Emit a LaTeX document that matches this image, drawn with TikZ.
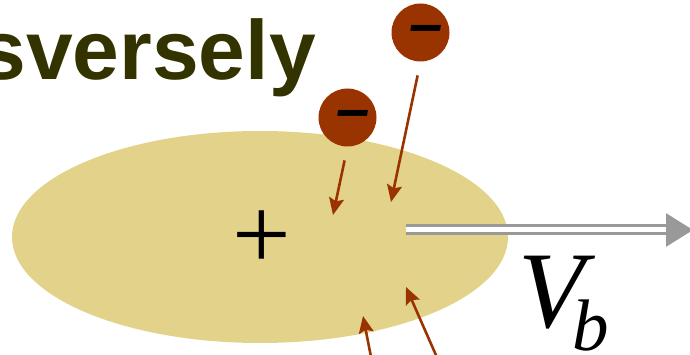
\documentclass[tikz,border=0pt]{standalone}
\usepackage{fontspec}
\setmainfont{Liberation Sans}
\newfontfamily\timesfont{Liberation Serif}
\usetikzlibrary{arrows.meta}
\definecolor{olivetext}{HTML}{333300}
\definecolor{nucleus}{HTML}{E3D38A}
\definecolor{rust}{HTML}{993300}
\definecolor{beamgray}{HTML}{999999}

\begin{document}
\begin{tikzpicture}[x=1pt,y=-1pt,
    electron/.style={circle,fill=rust,minimum size=58pt,inner sep=0pt},
    charge/.style={font=\fontsize{60}{60}\selectfont\bfseries\itshape,inner sep=0pt},
    capture/.style={rust,line width=2.6pt,-{Stealth[length=17pt,width=15pt,inset=3pt]}}
]
\useasboundingbox (0,0) rectangle (690,355);
\clip (0,0) rectangle (690,355);

% Title fragment
\node[anchor=base east,text=olivetext,inner sep=0pt,
      font=\fontsize{84}{84}\selectfont\bfseries] (title) at (316,80) {sversely};

% Ion body and its charge
\fill[nucleus] (260,237) ellipse [x radius=248, y radius=106];
\node[font=\timesfont\fontsize{104}{104}\selectfont,inner sep=0pt] (ion) at (262,240) {+};

% Incoming electrons
\node[electron] (e1) at (420.5,32.5) {};
\node[charge] (m1) at (426,34.5) {--};
\node[electron] (e2) at (347.5,117.5) {};
\node[charge] (m2) at (353,119.5) {--};

% Capture arrows
\coordinate (h1) at (391,202);
\coordinate (h2) at (333,215);
\draw[capture,shorten <=14pt] (e1.south) -- (h1);
\draw[capture,shorten <=14pt] (e2.south) -- (h2);

\coordinate (t3) at (372,362);
\coordinate (h3) at (363,316);
\coordinate (t4) at (439,362);
\coordinate (h4) at (406,287);
\draw[capture] (t3) -- (h3);
\draw[capture] (t4) -- (h4);

% Beam velocity
\coordinate (b0) at (406,230);
\coordinate (b1) at (693,230);
\draw[beamgray,double=white,double distance=5pt,line width=3pt,
      -{Triangle[length=27pt,width=33pt]}] (b0) -- (b1);
\node[anchor=base west,inner sep=0pt,font=\timesfont\itshape] (vb) at (518,327)
  {\fontsize{109}{109}\selectfont V\kern-12pt\fontsize{73}{73}\selectfont\raisebox{-23pt}{b}};

\end{tikzpicture}
\end{document}
